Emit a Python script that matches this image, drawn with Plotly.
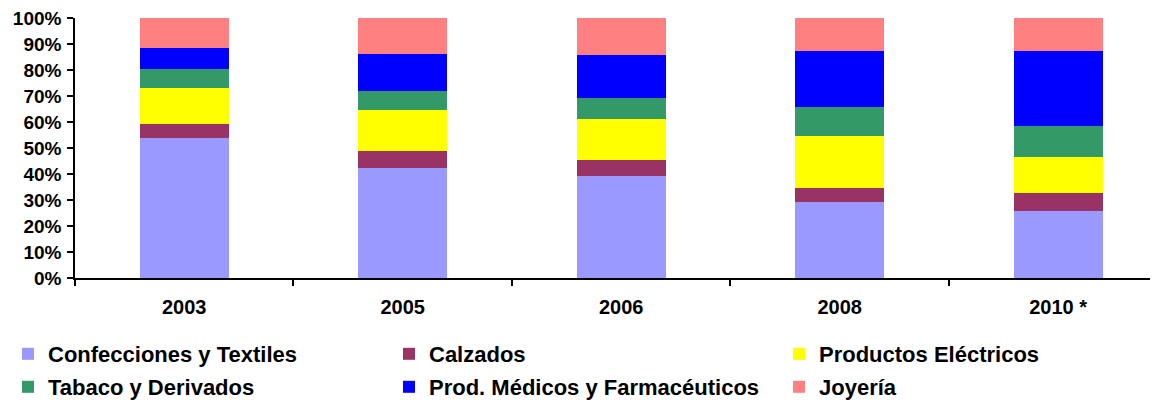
import plotly.graph_objects as go

years = ["2003", "2005", "2006", "2008", "2010 *"]
series_names = [
    "Confecciones y Textiles",
    "Calzados",
    "Productos Eléctricos",
    "Tabaco y Derivados",
    "Prod. Médicos y Farmacéuticos",
    "Joyería",
]
confecciones = [54.0, 42.3, 39.2, 29.2, 25.8]
calzados = [5.3, 6.5, 6.2, 5.4, 6.9]
electricos = [13.9, 15.8, 15.8, 20.0, 13.8]
tabaco = [7.2, 7.3, 8.0, 11.2, 12.0]
medicos = [8.1, 14.3, 16.6, 21.5, 28.8]
joyeria = [11.5, 13.8, 14.2, 12.7, 12.7]
y_ticks = [0, 10, 20, 30, 40, 50, 60, 70, 80, 90, 100]
y_tick_labels = [f"{v}%" for v in y_ticks]

values = [confecciones, calzados, electricos, tabaco, medicos, joyeria]
colors = ["#9999FF", "#993366", "#FFFF00", "#339966", "#0000FF", "#FF8080"]
legend_ids = ["legend", "legend", "legend", "legend2", "legend2", "legend2"]
legend_widths = [336, 345, 250, 336, 345, 250]

FONT = "Liberation Sans, Arial, sans-serif"
W, H = 1150, 392  # page body adds an 8px offset

fig = go.Figure()
for name, vals, col, lg, lw in zip(series_names, values, colors, legend_ids, legend_widths):
    fig.add_trace(go.Bar(
        x=years, y=vals, name=name,
        marker=dict(color=col, line=dict(width=0)),
        legend=lg, legendwidth=lw,
    ))

legend_common = dict(
    orientation="h",
    xref="container", x=0.0, xanchor="left",
    yref="container", yanchor="middle",
    font=dict(family=FONT, size=22, color="black", weight="bold"),
    bgcolor="rgba(0,0,0,0)",
    traceorder="normal",
)

fig.update_layout(
    width=W, height=H,
    margin=dict(l=67, r=0, t=10, b=122),
    plot_bgcolor="white", paper_bgcolor="white",
    barmode="stack", bargap=0.593,
    font=dict(family=FONT, color="black"),
    legend=dict(**legend_common, y=1 - 346 / H),
    legend2=dict(**legend_common, y=1 - 379 / H),
)

fig.update_xaxes(
    type="category",
    range=[-0.5, 4.457],
    showline=True, linecolor="black", linewidth=1.5,
    ticks="outside", tickson="boundaries", ticklen=6, tickwidth=1.5, tickcolor="black",
    tickfont=dict(family=FONT, size=20, color="black", weight="bold"),
    ticklabelstandoff=10,
    showgrid=False, zeroline=False, automargin=False,
)
fig.update_yaxes(
    range=[0, 100],
    tickmode="array", tickvals=y_ticks, ticktext=y_tick_labels,
    showline=True, linecolor="black", linewidth=1.5,
    ticks="outside", ticklen=6, tickwidth=1.5, tickcolor="black",
    tickfont=dict(family=FONT, size=19, color="black", weight="bold"),
    ticklabelstandoff=2, ticklabeloverflow="allow",
    showgrid=False, zeroline=False, automargin=False,
)

fig.write_html("out.html")
